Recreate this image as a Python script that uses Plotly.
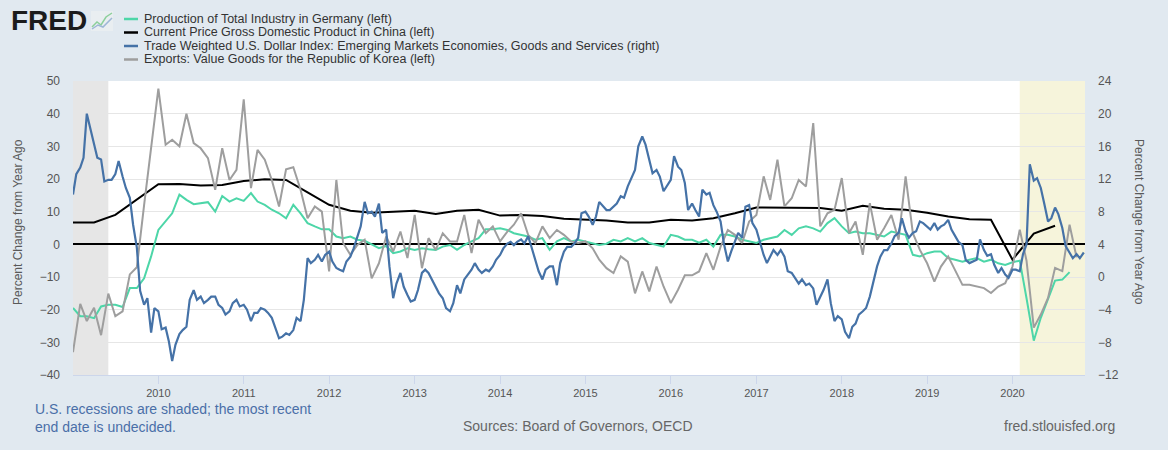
import pandas as pd
import plotly.graph_objects as go

# ---------------- data ----------------
germany_ip = [-19.5, -22, -22, -22.6, -19, -18.5, -18.5, -19.2, -13.4, -13.4, -10.4, -3.7,
              4.4, 7, 9.5, 15.2, 13.6, 12.3, 12.6, 12.9, 10, 14.8, 13.1, 14.1,
              13.3, 15.7, 13.1, 12.1, 10.6, 9.5, 8, 12.1, 9.5, 6.5, 5.5, 4.6,
              4.6, 2.4, 1.9, 2.4, 1.4, 1.1, 0, -1.2, -0.5, -2.7, -2.2, -1.2,
              -1.7, -1.2, -1.5, -1.7, -0.7, -0.2, -1.7, -0.2, 0.9, 1.9, 4.6, 4.6,
              4.9, 4.4, 3.4, 2.9, 2.4, 1.4, 1.9, -1.7, 0.9, 1.9, 0.9, 1.4,
              0.9, 0.4, -0.2, 0.2, 1.4, 0.9, 1.9, 0.9, 1.9, 0.4, -0.2, -0.7,
              2.9, 2.4, 1.4, 1.4, 0.5, 1.4, -0.7, 2.9, 2.9, 2.4, 1.4, 0.9,
              0.4, 1.4, 1.9, 2.4, 4.4, 2.9, 4.9, 5.5, 4.9, 3.9, 6.5, 8,
              5.5, 3.4, 3.9, 3.4, 3.4, 2.9, 2.4, 3.9, 3.4, 2.9, -3.2, -3.7,
              -2.7, -2.2, -2.2, -4.2, -4.7, -5.3, -4.7, -4.2, -5.3, -4.7, -5.8, -6.3,
              -5.5, -5, -16.5, -29.5, -22.5, -16.4, -11.1, -10.8, -8.5]

china_gdp = [6.7, 6.7, 9, 13.6, 18.4, 18.5, 18, 18.2, 19.4, 19.9, 19.7, 15.9,
             12.1, 10.3, 9.7, 10, 10.3, 9.3, 10.3, 10.6, 8.8, 9, 8.7, 7.8,
             7.5, 7.3, 6.7, 6.7, 7.5, 7.3, 8, 9.5, 11.3, 11.3, 11.3, 11.1,
             10.3, 11.8, 10.9, 10.6, 9.7, 8.5, 7.7, 7.5, -4.7, 3.3, 5.7]

korea_exports = [-33, -18.2, -23.5, -19.4, -27.8, -15.1, -22, -20.5, -9.2, -7, 12, 30,
                 47.7, 30.5, 32, 30, 40, 31, 29.4, 26.4, 16.7, 29.4, 19.7, 22.8,
                 44.4, 17.2, 28.9, 25.9, 19.7, 11.6, 23, 23.6, 16.7, 8, 11.6, 10,
                 -8.3, 19.7, 0.4, -3.2, -0.2, 1.4, -10.4, -5.8, 2.4, -2.2, 3.9, -4.2,
                 9, -7.3, 1.9, -1.7, 3.4, 0.9, 0.9, 9, -2.7, 7.5, 3.4, 5.5,
                 0.9, 3.9, 6, 9.5, 2.9, 0.4, 5.5, 1.9, 4.4, 2.9, 0.9, 0.4,
                 0.9, -1.2, -4.7, -7.3, -8.8, -3.7, -5.3, -15, -8.3, -14.4, -6.8, -12.9,
                 -18, -13.9, -9.5, -9.5, -8.3, -2.7, -7.8, -0.7, 4.4, 2.9, 0.4, 7,
                 9, 20.8, 13.6, 25.9, 11.6, 14.1, 19.7, 17.7, 37.1, 5.5, 9.5, 10.6,
                 20.3, 3.4, 7, -3.2, 12.6, 1.4, 4.9, 9, 1.4, 20.8, 3.4, -1.7,
                 -5.8, -11.4, -6.8, -3.7, -7.8, -12.4, -12.4, -12.9, -13.4, -14.9, -12.9, -11.9,
                 -6.8, 4.5, -5, -25.5, -21.5, -16.4, -7.2, -8.2, 6, -4]

dollar_em = [10.1, 12.6, 13.4, 14.6, 20.0, 18.3, 16.2, 14.6, 14.4, 11.7, 11.9, 11.9,
             12.6, 14.2, 12.3, 10.9, 9.7, 6.4, 3.6, -1.7, -3.4, -2.6, -6.8, -3.8,
             -4.2, -6.4, -6.2, -7.9, -10.3, -8.3, -7.0, -6.5, -6.1, -2.8, -1.6, -2.8,
             -2.4, -3.2, -2.8, -2.4, -2.4, -3.4, -3.8, -4.6, -4.2, -3.2, -2.8, -3.6,
             -3.4, -4.0, -5.4, -4.4, -4.4, -3.8, -4.0, -4.4, -5.0, -6.1, -7.5, -7.3,
             -6.9, -7.1, -6.5, -5.0, -5.4, -2.8, 2.3, 1.7, 2.1, 2.7, 1.9, 2.7,
             3.1, 1.9, 1.1, 0.9, 0.7, 1.9, 2.5, 3.5, 5.0, 6.2, 9.2, 7.8,
             8.0, 7.4, 9.0, 5.4, 5.8, 1.3, -2.6, -0.8, 0.5, -1.2, -2.2, -3.0,
             -2.8, -1.6, 0.5, 0.9, 0.5, -0.3, -1.2, -2.0, -2.6, -3.8, -4.2, -3.2,
             -1.0, -2.0, -0.3, 0.3, 0.9, 1.7, 0.9, 0.5, 0.9, 0.7, 1.3, 2.1,
             2.7, 3.5, 4.1, 4.3, 3.9, 4.3, 4.6, 4.1, 5.0, 3.7, 1.9, 0.7,
             -0.3, 0.9, 1.3, 1.3, -1.0, 1.7, 3.1, 3.7, 3.7, 4.1, 4.8, 7.8,
             8.0, 7.4, 6.4, 7.4, 9.2, 8.8, 8.2, 8.2, 8.6, 9.0, 9.9, 9.7,
             11.1, 12.1, 13.1, 16.0, 17.2, 16.2, 14.3, 12.7, 13.1, 12.3, 10.5, 11.1,
             11.9, 14.8, 13.5, 13.1, 11.5, 8.2, 9.0, 8.2, 7.4, 10.7, 10.1, 10.3,
             8.8, 8.0, 6.8, 4.1, 1.9, 3.1, 4.3, 5.4, 4.8, 8.6, 8.8, 6.6,
             5.8, 4.3, 2.7, 1.7, 2.5, 3.3, 2.7, 3.3, 2.5, 0.7, 0.5, -0.1,
             -0.8, -0.3, -1.0, -0.8, -1.4, -3.4, -2.4, -1.6, -0.3, -3.2, -5.4, -4.8,
             -5.2, -6.7, -7.5, -6.1, -5.7, -4.6, -4.2, -3.8, -2.4, -0.6, 1.3, 2.5,
             3.3, 3.3, 4.1, 5.0, 5.4, 7.2, 5.6, 4.8, 5.4, 5.6, 6.8, 6.6,
             6.2, 5.8, 6.6, 5.8, 6.2, 6.4, 7.0, 5.8, 5.0, 4.3, 3.9, 2.1,
             1.7, 1.9, 2.1, 4.6, 3.3, 2.6, 2.8, 1.5, 0.5, 1.1, 0.3, -0.1,
             0.9, 0.9, 0.7, 2.8, 4.0, 13.8, 11.8, 12.1, 10.9, 9.1, 6.8, 7.2,
             8.5, 7.7, 6.0, 3.8, 3.0, 2.3, 2.8, 2.3, 3.0]

germany_dates = pd.date_range("2009-01-01", periods=len(germany_ip), freq="MS")
korea_dates = pd.date_range("2009-01-01", periods=len(korea_exports), freq="MS")
china_dates = pd.date_range("2009-01-01", periods=len(china_gdp), freq="QS")
dollar_dates = pd.date_range("2009-01-01", periods=len(dollar_em), freq="SMS")

series_names = [
    "Production of Total Industry in Germany (left)",
    "Current Price Gross Domestic Product in China (left)",
    "Trade Weighted U.S. Dollar Index: Emerging Markets Economies, Goods and Services (right)",
    "Exports: Value Goods for the Republic of Korea (left)",
]
series_colors = ["#4dd6a8", "#000000", "#4572a7", "#9e9e9e"]
year_ticks = [str(y) for y in range(2010, 2021)]
left_ticks = list(range(-40, 51, 10))
right_ticks = list(range(-12, 25, 4))
recessions = [("2009-01-01", "2009-06-01", "#e6e6e6"), ("2020-02-01", "2020-11-06", "#f6f4db")]

# ---------------- figure ----------------
W, H = 1168, 450
ML, MR, MT, MB = 73, 83, 81, 75
PW, PH = W - ML - MR, H - MT - MB


def px(x):
    return (x - ML) / PW


def py(y):
    return (H - MB - y) / PH


SANS = "Liberation Sans, Arial, sans-serif"

fig = go.Figure()
fig.add_trace(go.Scatter(x=germany_dates, y=germany_ip, name=series_names[0], mode="lines",
                         line=dict(color=series_colors[0], width=2)))
fig.add_trace(go.Scatter(x=china_dates, y=china_gdp, name=series_names[1], mode="lines",
                         line=dict(color=series_colors[1], width=2)))
fig.add_trace(go.Scatter(x=dollar_dates, y=dollar_em, name=series_names[2], mode="lines",
                         line=dict(color=series_colors[2], width=2.2), yaxis="y2"))
fig.add_trace(go.Scatter(x=korea_dates, y=korea_exports, name=series_names[3], mode="lines",
                         line=dict(color=series_colors[3], width=2)))

shapes = []
for x0, x1, c in recessions:
    shapes.append(dict(type="rect", xref="x", yref="paper", x0=x0, x1=x1, y0=0, y1=1,
                       fillcolor=c, line=dict(width=0), layer="below"))

annotations = []
# legend (manual, FRED style)
row_y = [19, 32.5, 46, 59.5]
for i, (name, col) in enumerate(zip(series_names, series_colors)):
    shapes.append(dict(type="line", xref="paper", yref="paper", x0=px(124), x1=px(138),
                       y0=py(row_y[i]), y1=py(row_y[i]), line=dict(color=col, width=2.5)))
    annotations.append(dict(text=name, xref="paper", yref="paper", x=px(142), y=py(row_y[i]),
                            xanchor="left", yanchor="middle", showarrow=False,
                            font=dict(family=SANS, size=12.5, color="#333333")))

# FRED logo
annotations.append(dict(text="<b>FRED</b>", xref="paper", yref="paper", x=px(9), y=py(20),
                        xanchor="left", yanchor="middle", showarrow=False,
                        font=dict(family=SANS, size=28, color="#1c1c1c")))
shapes.append(dict(type="rect", xref="paper", yref="paper", x0=px(91), x1=px(113), y0=py(31), y1=py(11),
                   fillcolor="#e9eef1", line=dict(width=0)))
shapes.append(dict(type="path", xref="paper", yref="paper",
                   path="M {} {} L {} {} L {} {} L {} {} L {} {}".format(
                       px(92), py(27), px(97), py(22), px(101), py(25), px(106), py(17), px(112), py(13)),
                   line=dict(color="#8ccf9b", width=1.5)))
shapes.append(dict(type="path", xref="paper", yref="paper",
                   path="M {} {} L {} {} L {} {} L {} {}".format(
                       px(92), py(29), px(98), py(25), px(103), py(27), px(112), py(18)),
                   line=dict(color="#9db6d6", width=1.5)))

# axis titles
annotations.append(dict(text="Percent Change from Year Ago", xref="paper", yref="paper",
                        x=px(18), y=py(222), textangle=-90, showarrow=False,
                        xanchor="center", yanchor="middle",
                        font=dict(family=SANS, size=12, color="#595959")))
annotations.append(dict(text="Percent Change from Year Ago", xref="paper", yref="paper",
                        x=px(1139), y=py(222), textangle=90, showarrow=False,
                        xanchor="center", yanchor="middle",
                        font=dict(family=SANS, size=12, color="#595959")))

# footer
annotations.append(dict(text="U.S. recessions are shaded; the most recent<br>end date is undecided.",
                        xref="paper", yref="paper", x=px(33), y=py(418), xanchor="left",
                        yanchor="middle", align="left", showarrow=False,
                        font=dict(family=SANS, size=14, color="#4a6fa8")))
annotations.append(dict(text="Sources: Board of Governors, OECD", xref="paper", yref="paper",
                        x=px(578), y=py(426), xanchor="center", yanchor="middle", showarrow=False,
                        font=dict(family=SANS, size=14, color="#666666")))
annotations.append(dict(text="fred.stlouisfed.org", xref="paper", yref="paper",
                        x=px(1117), y=py(426), xanchor="right", yanchor="middle", showarrow=False,
                        font=dict(family=SANS, size=14, color="#666666")))

fig.update_layout(
    width=W, height=H,
    margin=dict(l=ML, r=MR, t=MT, b=MB, pad=0),
    paper_bgcolor="#e1e9f0", plot_bgcolor="#ffffff",
    showlegend=False,
    shapes=shapes, annotations=annotations,
    xaxis=dict(type="date", range=["2009-01-01", "2020-11-06"],
               tickvals=[f"{y}-01-01" for y in year_ticks], ticktext=year_ticks,
               showgrid=False, zeroline=False, showline=True, linecolor="#ccd6eb", linewidth=1,
               ticks="outside", ticklen=8, tickcolor="#ccd6eb",
               tickfont=dict(family=SANS, size=11, color="#555555")),
    yaxis=dict(range=[-40, 50], tickvals=left_ticks, showgrid=True, gridcolor="#e6e6e6",
               zeroline=True, zerolinecolor="#000000", zerolinewidth=2,
               ticklabelstandoff=12, showline=False,
               tickfont=dict(family=SANS, size=12, color="#555555")),
    yaxis2=dict(range=[-12, 24], tickvals=right_ticks, overlaying="y", side="right",
                showgrid=False, zeroline=False, ticklabelstandoff=12,
                tickfont=dict(family=SANS, size=12, color="#555555")),
)

fig.write_html("out.html")
